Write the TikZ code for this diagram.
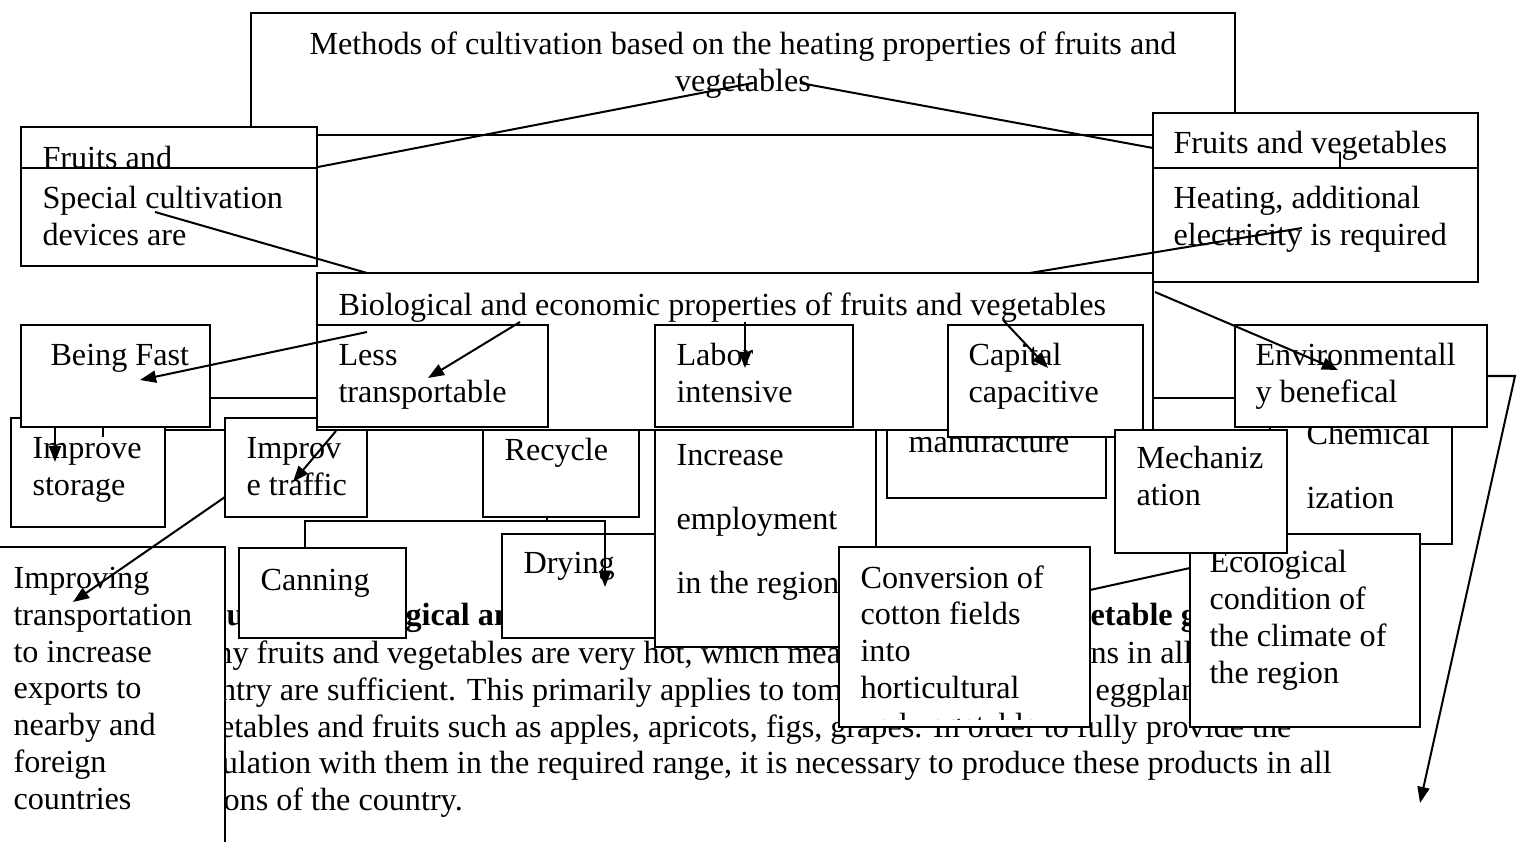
\documentclass[tikz,border=0pt]{standalone}
\usepackage{fontspec}
\setmainfont{Liberation Serif}
\usetikzlibrary{arrows.meta, fit}

\tikzset{
  box/.style={draw, fill=white, line width=0.75pt, inner sep=0pt},
  txt/.style={anchor=base west, inner sep=0pt, align=left, font=\fontsize{12}{13.7}\selectfont},
  boldtxt/.style={txt, font=\fontsize{12}{13.7}\selectfont\bfseries},
  link/.style={line width=0.75pt},
  arr/.style={link, -{Triangle[length=6pt, width=4.5pt]}}
}

\begin{document}
\begin{tikzpicture}[x=0.0131cm, y=-0.0131cm]
\useasboundingbox (0,0) rectangle (1525,842);
\fill[white] (0,0) rectangle (1525,842);

% running text behind the chart
\node[boldtxt] (headA) at (226,625) {u};
\node[boldtxt] (headB) at (405,625) {gical and};
\node[boldtxt] (headC) at (1090,625) {etable growing};
\node[txt] (parA) at (173,663) {Many fruits and vegetables are very hot, which means};
\node[txt] (parB) at (1090,663) {ns in all};
\node[txt] (parC) at (173,700) {country are sufficient. This primarily applies to tomatoes,};
\node[txt] (parD) at (1095,700) {eggplants};
\node[txt] (parE) at (173,737) {vegetables and fruits such as apples, apricots, figs, grapes. In order to fully provide the};
\node[txt] (parF) at (173,773) {population with them in the required range, it is necessary to produce these products in all};
\node[txt] (parG) at (173,810) {regions of the country.};

% top level (text nodes sit on the baseline of their last line)
\node[box, fit={(251,13) (1235,135)}] (methods) {};
\node[txt, anchor=base, align=center] (methodsT) at (743,91) {Methods of cultivation based on the heating properties of fruits and\\vegetables};
\node[box, fit={(21,127) (317,210)}] (fruitsL) {};
\node[txt] (fruitsLT) at (42,168) {Fruits and};
\node[box, fit={(21,168) (317,266)}] (special) {};
\node[txt] (specialT) at (42,245) {Special cultivation\\devices are};
\node[box, fit={(1153,113) (1478,200)}] (fruitsR) {};
\node[txt] (fruitsRT) at (1173,153) {Fruits and vegetables};
\node[box, fit={(1153,168) (1478,282)}] (heating) {};
\node[txt] (heatingT) at (1173,245) {Heating, additional\\electricity is required};

% lines hidden behind the middle row
\coordinate (rowA) at (210,398);
\coordinate (rowB) at (1235,398);
\coordinate (rowC) at (100,430);
\coordinate (rowD) at (317,430);
\draw[link] (rowA) -- (rowB);
\draw[link] (rowC) -- (rowD);

% lower boxes
\node[box, fit={(887,405) (1106,498)}] (manuf) {};
\node[txt] (manufT) at (908,452) {manufacture};
\node[box, fit={(11,418) (165,527)}] (storage) {};
\node[txt] (storageT) at (32,495) {Improve\\storage};
\node[box, fit={(225,418) (367,517)}] (traffic) {};
\node[txt] (trafficT) at (246,495) {Improv\\e traffic};
\node[box, fit={(483,430) (639,517)}] (recycle) {};
\node[txt] (recycleT) at (504,460) {Recycle};
\node[box, fit={(655,430) (876,647)}] (increase) {};
\node[txt] (increaseT) at (676,593) {Increase\\[10pt]employment\\[10pt]in the region};
\node[box, fit={(502,534) (655,638)}] (drying) {};
\node[txt] (dryingT) at (523,573) {Drying};

% middle row
\node[box, fit={(317,273) (1153,430)}] (bio) {};
\node[txt] (bioT) at (338,315) {Biological and economic properties of fruits and vegetables};
\node[box, fit={(317,325) (548,427)}] (less) {};
\node[txt] (lessT) at (338,402) {Less\\transportable};
\node[box, fit={(655,325) (853,427)}] (labor) {};
\node[txt] (laborT) at (676,402) {Labor\\intensive};
\node[box, fit={(948,325) (1143,437)}] (capital) {};
\node[txt] (capitalT) at (968,402) {Capital\\capacitive};
\node[box, fit={(21,325) (210,427)}] (fast) {};
\node[txt] (fastT) at (50,365) {Being Fast};
\node[box, fit={(1270,410) (1452,544)}] (chem) {};
\node[txt] (chemT) at (1306,508) {Chemical\\[10pt]ization};
\node[box, fit={(1190,534) (1420,727)}] (eco) {};
\node[txt] (ecoT) at (1209,683) {Ecological\\condition of\\the climate of\\the region};
\node[box, fit={(1115,430) (1287,553)}] (mech) {};
\node[txt] (mechT) at (1136,505) {Mechaniz\\ation};
\node[box, fit={(1235,325) (1487,427)}] (env) {};
\node[txt] (envT) at (1255,402) {Environmentall\\y benefical};
\node[box, fit={(839,547) (1090,727)}] (conv) {};
\begin{scope}
  \clip (839,547) rectangle (1090,719);
  \node[txt] (convT) at (860,735) {Conversion of\\cotton fields\\into\\horticultural\\and vegetable};
\end{scope}
\node[box, fit={(239,548) (406,638)}] (canning) {};
\node[txt] (canningT) at (260,590) {Canning};
\node[box, fit={(-10,547) (225,880)}] (improving) {};
\node[txt] (improvingT) at (13,809) {Improving\\transportation\\to increase\\exports to\\nearby and\\foreign\\countries};

% connector ends
\coordinate (vegL) at (753,83);
\coordinate (vegR) at (800,83);
\coordinate (fruitsRin) at (1153,148);
\coordinate (specialIn) at (155,212);
\coordinate (bioTopL) at (367,273);
\coordinate (bioTopR) at (1030,273);
\coordinate (heatingIn) at (1302,228);
\coordinate (bioA) at (367,332);
\coordinate (fastTip) at (140,380);
\coordinate (bioB) at (520,322);
\coordinate (lessTip) at (428,378);
\coordinate (bioC) at (745,322);
\coordinate (laborTip) at (745,368);
\coordinate (bioD) at (1003,320);
\coordinate (capitalTip) at (1048,368);
\coordinate (bioE) at (1155,292);
\coordinate (envTip) at (1338,370);
\coordinate (lessOut) at (336,431);
\coordinate (trafficTip) at (293,482);
\coordinate (trafficOut) at (225,497);
\coordinate (improvingTip) at (73,602);
\coordinate (fastOut) at (55,427);
\coordinate (storageTip) at (55,462);
\coordinate (recOut) at (547,517);
\coordinate (fork) at (547,521);
\coordinate (canTop) at (305,548);
\coordinate (dryTip) at (605,587);
\coordinate (envBend) at (1515,376);
\coordinate (farTip) at (1420,803);
\coordinate (convOut) at (1090,590);
\coordinate (ecoIn) at (1190,568);
\coordinate (tickA) at (103,427);
\coordinate (tickB) at (103,437);
\coordinate (tickC) at (1340,152);
\coordinate (tickD) at (1340,168);

% connectors
\draw[link] (special.north east) -- (vegL);
\draw[link] (vegR) -- (fruitsRin);
\draw[link] (specialIn) -- (bioTopL);
\draw[link] (bioTopR) -- (heatingIn);
\draw[arr] (bioA) -- (fastTip);
\draw[arr] (bioB) -- (lessTip);
\draw[arr] (bioC) -- (laborTip);
\draw[arr] (bioD) -- (capitalTip);
\draw[arr] (bioE) -- (envTip);
\draw[arr] (lessOut) -- (trafficTip);
\draw[arr] (trafficOut) -- (improvingTip);
\draw[arr] (fastOut) -- (storageTip);
\draw[link] (recOut) -- (fork) -| (canTop);
\draw[arr] (fork) -| (dryTip);
\draw[arr] (env.east) -- (envBend) -- (farTip);
\draw[link] (convOut) -- (ecoIn);
\draw[link] (tickA) -- (tickB);
\draw[link] (tickC) -- (tickD);
\end{tikzpicture}
\end{document}
